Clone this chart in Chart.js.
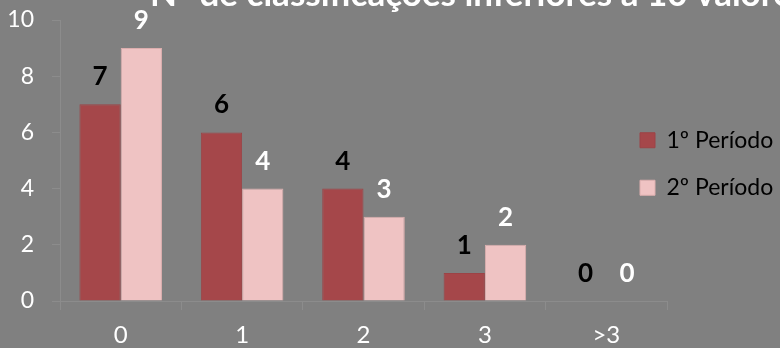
<!DOCTYPE html>
<html>
<head>
<meta charset="utf-8">
<script src="https://cdn.jsdelivr.net/npm/chart.js@4.4.0/dist/chart.umd.min.js"></script>
<style>
  html, body { margin: 0; padding: 0; background: #808080; }
  #wrap { width: 780px; height: 348px; overflow: hidden; }
</style>
</head>
<body>
<div id="wrap"><canvas id="chart" width="780" height="348"></canvas></div>
<script>
// ========================================
// DATA
// ========================================
const chartTitle = "Nº de classificações inferiores a 10 valores";
const categories = ["0", "1", "2", "3", ">3"];
const seriesNames = ["1º Período", "2º Período"];
const period1 = [7, 6, 4, 1, 0];
const period2 = [9, 4, 3, 2, 0];
const yTicks = [0, 2, 4, 6, 8, 10];

// ========================================
// STYLE
// ========================================
const FONT = "Lato, 'Open Sans', sans-serif";
const barColors = ["#a5474a", "#efc3c3"];
const barBorders = ["#9c4346", "#dcaeae"];
const labelColors = ["#000000", "#ffffff"];
const axisColor = "#8c8c8c";

// title drawn partly above the canvas, as in the cropped original
const titlePlugin = {
  id: "cutTitle",
  afterDraw(chart) {
    const ctx = chart.ctx;
    ctx.save();
    ctx.font = "bold 35px " + FONT;
    ctx.fillStyle = "#ffffff";
    ctx.textAlign = "left";
    ctx.textBaseline = "alphabetic";
    ctx.fillText(chartTitle, 150, 6);
    ctx.restore();
  },
};

// value labels above each bar
const valueLabels = {
  id: "valueLabels",
  afterDatasetsDraw(chart) {
    const ctx = chart.ctx;
    ctx.save();
    ctx.font = "bold 26px " + FONT;
    ctx.textAlign = "center";
    ctx.textBaseline = "alphabetic";
    chart.data.datasets.forEach((ds, i) => {
      const meta = chart.getDatasetMeta(i);
      ctx.fillStyle = labelColors[i];
      meta.data.forEach((bar, j) => {
        ctx.fillText(String(ds.data[j]), bar.x, bar.y - 19);
      });
    });
    ctx.restore();
  },
};

// legend sits over the empty right part of the plot, like in Excel
const legendPlace = {
  id: "legendPlace",
  beforeInit(chart) {
    const lg = chart.legend;
    const fit = lg.fit;
    lg.fit = function () {
      fit.call(this);
      this.width = 113;
    };
  },
  beforeDraw(chart) {
    const lg = chart.legend;
    const pad = lg.options.labels.padding;
    lg.left = 640 - pad;
    lg.right = chart.width;
    lg.width = lg.right - lg.left;
    lg.top -= 20;
    lg.bottom -= 20;
  },
};

new Chart(document.getElementById("chart"), {
  type: "bar",
  data: {
    labels: categories,
    datasets: [
      {
        label: seriesNames[0],
        data: period1,
        backgroundColor: barColors[0],
        borderColor: barBorders[0],
        borderWidth: 1,
      },
      {
        label: seriesNames[1],
        data: period2,
        backgroundColor: barColors[1],
        borderColor: barBorders[1],
        borderWidth: 1,
      },
    ],
  },
  options: {
    responsive: false,
    animation: false,
    layout: { padding: { top: 20, left: 0, right: 0, bottom: 0 } },
    datasets: {
      bar: { categoryPercentage: 0.68, barPercentage: 1.0 },
    },
    plugins: {
      title: { display: false },
      tooltip: { enabled: false },
      legend: {
        position: "right",
        align: "center",
        labels: {
          boxWidth: 15,
          boxHeight: 15,
          padding: 24.5,
          color: "#000000",
          font: { family: FONT, size: 23 },
        },
      },
    },
    scales: {
      x: {
        afterFit: (s) => { s.height = 47; },
        grid: {
          offset: true,
          drawOnChartArea: false,
          drawTicks: true,
          tickLength: 9,
          color: axisColor,
        },
        border: { color: axisColor, width: 1 },
        ticks: {
          color: "#ffffff",
          padding: 11,
          font: { family: FONT, size: 24 },
        },
      },
      y: {
        min: yTicks[0],
        max: yTicks[yTicks.length - 1],
        afterFit: (s) => {
          s.width = 60;
          s.paddingTop = 0;
          s.paddingBottom = 0;
        },
        afterBuildTicks: (s) => { s.ticks = yTicks.map((v) => ({ value: v })); },
        grid: {
          drawOnChartArea: false,
          drawTicks: true,
          tickLength: 8,
          color: axisColor,
        },
        border: { color: axisColor, width: 1 },
        ticks: {
          color: "#ffffff",
          padding: 18,
          font: { family: FONT, size: 23 },
        },
      },
    },
  },
  plugins: [valueLabels, legendPlace, titlePlugin],
});
</script>
</body>
</html>
